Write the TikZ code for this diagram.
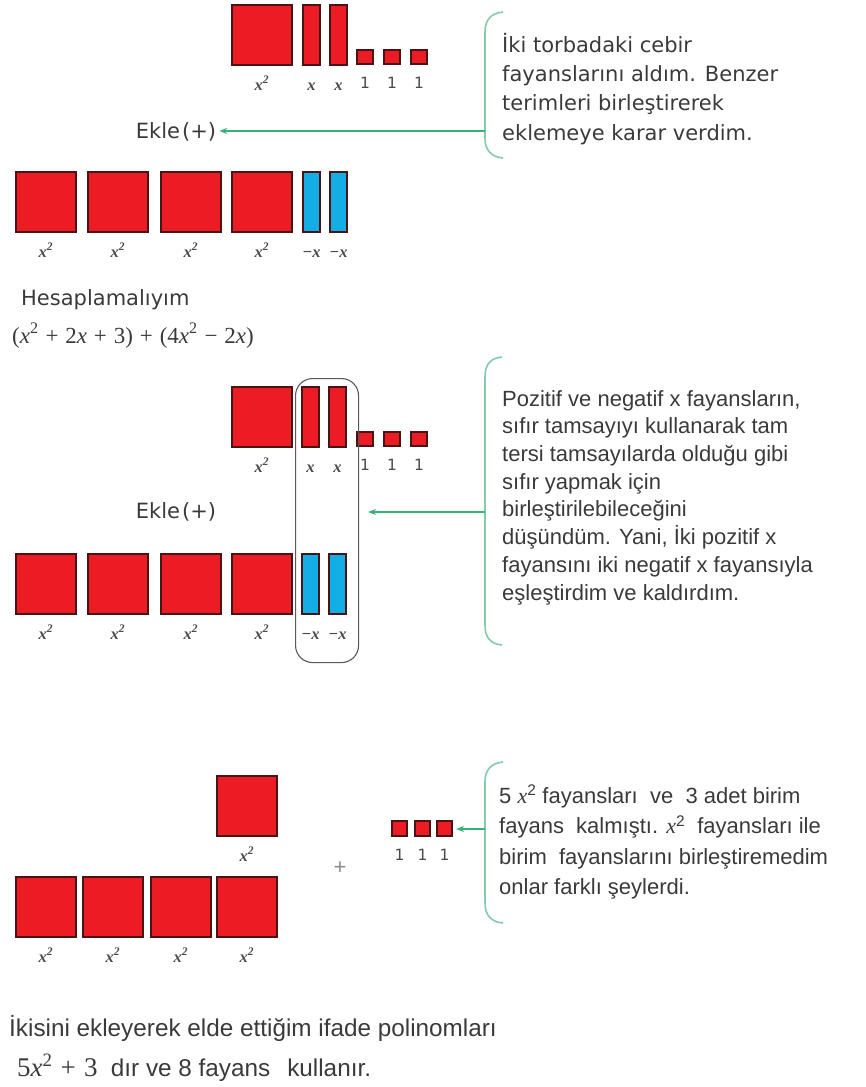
\documentclass[tikz,border=0pt]{standalone}
\usepackage{fontspec}
\setmainfont{Liberation Sans}
\newfontfamily\dejafont{DejaVu Sans}
\newfontfamily\serifx{Liberation Serif}
\newfontfamily\lblfont{Liberation Serif Bold Italic}
\usetikzlibrary{arrows.meta}
\definecolor{tred}{HTML}{EC1C24}
\definecolor{tborder}{HTML}{4A1414}
\definecolor{tblue}{HTML}{14AEE6}
\definecolor{agreen}{HTML}{35B27A}
\definecolor{bgreen}{HTML}{86CBA9}
\definecolor{txt}{HTML}{3A3A3A}
\definecolor{lbltxt}{HTML}{4A4A4A}
\begin{document}
\begin{tikzpicture}[x=1pt,y=-1pt,
  tile/.style={draw=tborder, line width=1.1pt, inner sep=0pt, outer sep=0pt, anchor=north west},
  big/.style={tile, fill=tred, minimum width=60pt, minimum height=60pt},
  xr/.style={tile, fill=tred, minimum width=17pt, minimum height=60pt},
  xb/.style={tile, fill=tblue, minimum width=17pt, minimum height=60pt},
  unit/.style={tile, fill=tred, minimum width=16pt, minimum height=14pt},
  sunit/.style={tile, fill=tred, minimum width=15pt, minimum height=15pt},
  lbl/.style={font=\lblfont\fontsize{16.5}{16}\selectfont, text=lbltxt, inner sep=0pt, anchor=base},
  lblone/.style={font=\dejafont\fontsize{15.5}{15}\selectfont, text=lbltxt, inner sep=0pt, anchor=base},
  arr/.style={draw=agreen, line width=1.4pt, -{Stealth[length=8pt,width=6pt]}},
  brc/.style={draw=bgreen, line width=1.6pt},
  encl/.style={draw=black!65, line width=1.1pt, rounded corners=17pt, minimum width=63pt, minimum height=284pt, anchor=north west, inner sep=0pt},
  wide/.style={font=\dejafont\fontsize{21}{29}\selectfont, text=txt, inner sep=0pt},
  call/.style={font=\fontsize{22}{27.7}\selectfont, text=txt, inner sep=0pt, align=left, anchor=north west},
  body/.style={font=\fontsize{24.3}{28}\selectfont, text=txt, inner sep=0pt, anchor=base west},
  formula/.style={font=\serifx\fontsize{23}{28}\selectfont, text=txt, inner sep=0pt, anchor=base west}
]
\useasboundingbox (0,0) rectangle (866,1087);

% ---------- section 1 ----------
\node[big] (a1) at (232,5) {};
\node[xr] (a2) at (303,5) {};
\node[xr] (a3) at (330,5) {};
\node[unit] (a4) at (357,50) {};
\node[unit] (a5) at (384,50) {};
\node[unit] (a6) at (411,50) {};

\node[wide, anchor=center] (ekle1) at (176,132) {Ekle\hspace{2pt}(+)};

\node[big] (b1) at (16,172) {};
\node[big] (b2) at (88,172) {};
\node[big] (b3) at (161,172) {};
\node[big] (b4) at (232,172) {};
\node[xb] (b5) at (303,172) {};
\node[xb] (b6) at (330,172) {};

\draw[brc] (503,12) .. controls (491,13) and (485,20) .. (485,32) -- (485,138) .. controls (485,150) and (491,157) .. (503,158);
\coordinate (k1) at (485,131);
\draw[arr, shorten >=3pt] (k1) -- (k1 -| ekle1.east);
\node[wide, align=left, anchor=north west, font=\dejafont\fontsize{21}{29.3}\selectfont] (t1) at (502,33) {İki torbadaki cebir\\fayanslarını aldım. Benzer\\terimleri birleştirerek\\eklemeye karar verdim.};

\node[wide, anchor=base west] (hes) at (21,305) {Hesaplamalıyım};
\node[formula] (form) at (12,343) {(\textit{x}\textsuperscript{2}\hspace{0.3em}+\hspace{0.3em}2\textit{x}\hspace{0.3em}+\hspace{0.3em}3)\hspace{0.3em}+\hspace{0.3em}(4\textit{x}\textsuperscript{2}\hspace{0.3em}−\hspace{0.3em}2\textit{x})};

% ---------- section 2 ----------
\node[big] (c1) at (232,387) {};
\node[xr] (c2) at (302,387) {};
\node[xr] (c3) at (329,387) {};
\node[unit] (c4) at (357,432) {};
\node[unit] (c5) at (384,432) {};
\node[unit] (c6) at (411,432) {};

\node[wide, anchor=center] (ekle2) at (176,512) {Ekle\hspace{2pt}(+)};

\node[big] (d1) at (16,554) {};
\node[big] (d2) at (88,554) {};
\node[big] (d3) at (161,554) {};
\node[big] (d4) at (232,554) {};
\node[xb] (d5) at (302,554) {};
\node[xb] (d6) at (329,554) {};

\node[encl] (ring) at (295,378) {};

\draw[brc] (502,357) .. controls (490,358) and (485,365) .. (485,377) -- (485,625) .. controls (485,637) and (490,644) .. (502,645);
\coordinate (k2) at (485,512);
\draw[arr, shorten >=9pt] (k2) -- (k2 -| ring.east);
\node[call] (t2) at (502,390) {Pozitif ve negatif x fayansların,\\sıfır tamsayıyı kullanarak tam\\tersi tamsayılarda olduğu gibi\\sıfır yapmak için\\birleştirilebileceğini\\düşündüm. Yani, İki pozitif x\\fayansını iki negatif x fayansıyla\\eşleştirdim ve kaldırdım.};

% ---------- section 3 ----------
\node[big] (e1) at (217,776) {};
\node[sunit] (e2) at (392,821) {};
\node[sunit] (e3) at (415,821) {};
\node[sunit] (e4) at (437,821) {};
\node[font=\fontsize{22}{22}\selectfont, text=black!45, inner sep=0pt] (plus) at (340,868) {+};

\node[big] (f1) at (16,877) {};
\node[big] (f2) at (83,877) {};
\node[big] (f3) at (151,877) {};
\node[big] (f4) at (217,877) {};

\draw[brc] (503,762) .. controls (491,763) and (485,770) .. (485,782) -- (485,903) .. controls (485,915) and (491,922) .. (503,923);
\coordinate (k3) at (485,829);
\draw[arr, shorten >=4pt] (k3) -- (k3 -| e4.east);
\node[call, font=\fontsize{22}{30.5}\selectfont] (t3) at (499,785) {5 {\serifx\itshape x}\textsuperscript{2} fayansları\ \ ve\ \ 3 adet birim\\fayans\ \ kalmıştı. {\serifx\itshape x}\textsuperscript{2}\ \ fayansları ile\\birim\ \ fayanslarını birleştiremedim\\onlar farklı şeylerdi.};

% ---------- labels ----------
\foreach \n in {a1,b1,b2,b3,b4,c1,d1,d2,d3,d4,e1,f1,f2,f3,f4}
  \path (\n.south) ++(0,25) node[lbl] (\n-l) {x\textsuperscript{2}};
\foreach \n in {a2,a3,c2,c3}
  \path (\n.south) ++(0,25) node[lbl] (\n-l) {x};
\foreach \n in {b5,b6,d5,d6}
  \path (\n.south) ++(0,25) node[lbl] (\n-l) {−x};
\foreach \n in {a4,a5,a6,c4,c5,c6,e2,e3,e4}
  \path (\n.south) ++(0,24) node[lblone] (\n-l) {1};

% ---------- bottom text ----------
\node[body] (s1) at (9,1036) {İkisini ekleyerek elde ettiğim ifade polinomları};
\node[body] (s2) at (17,1076) {{\serifx\fontsize{27}{28}\selectfont 5\textit{x}\textsuperscript{2}\hspace{0.3em}+\hspace{0.3em}3}\hspace{0.55em}dır ve 8 fayans\hspace{0.7em}kullanır.};
\end{tikzpicture}
\end{document}
